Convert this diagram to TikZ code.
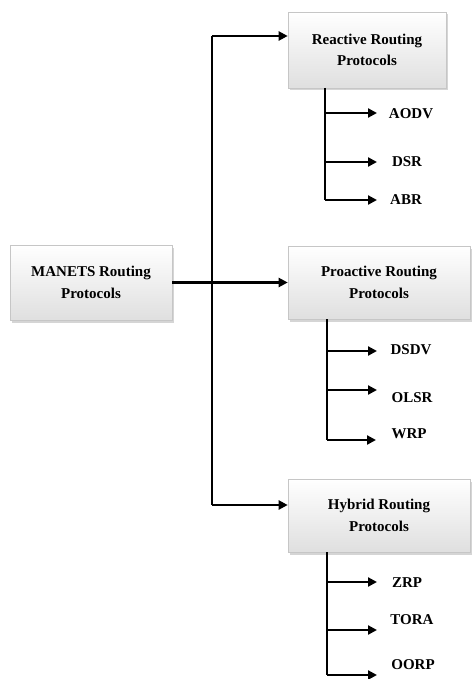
\documentclass[tikz,border=0pt]{standalone}
\usepackage{fontspec}
\setmainfont{Liberation Serif}
\usetikzlibrary{arrows.meta,shadows}
\begin{document}
\begin{tikzpicture}[x=1pt,y=-1pt,
  box/.style={draw=gray!45, line width=0.6pt, top color=white, bottom color=gray!25,
    drop shadow={shadow xshift=1.5pt,shadow yshift=-2.5pt,fill=gray!65},
    align=center, font=\bfseries\fontsize{15}{21.5}\selectfont, inner sep=0pt},
  lbl/.style={font=\bfseries\fontsize{15}{18}\selectfont, inner sep=0pt},
  arr/.style={line width=2.2pt, -{Triangle[length=9pt,width=9pt]}},
  ln/.style={line width=2.2pt}]
\useasboundingbox (0,0) rectangle (471,679);
% main boxes
\node[box, minimum width=162pt, minimum height=75pt] (man) at (91,282.5) {MANETS Routing\\Protocols};
\node[box, minimum width=158pt, minimum height=76pt] (rea) at (367,50) {Reactive Routing\\Protocols};
\node[box, minimum width=182pt, minimum height=73pt] (pro) at (379,282.5) {Proactive Routing\\Protocols};
\node[box, minimum width=182pt, minimum height=73pt] (hyb) at (379,515.5) {Hybrid Routing\\Protocols};
% trunk
\coordinate (t1) at (212,36);
\coordinate (t2) at (212,505);
\draw[ln] (t1) -- (t2);
\draw[arr] (t1) -- (t1 -| rea.west);
\draw[arr] (t2) -- (t2 -| hyb.west);
\draw[arr] (man.east) -- (pro.west);
% reactive leaves
\node[lbl] (aodv) at (411,114) {AODV};
\node[lbl] (dsr) at (407,162) {DSR};
\node[lbl] (abr) at (406,200) {ABR};
\coordinate (r0) at (325,88);
\coordinate (r1) at (325,113);
\coordinate (r2) at (325,162);
\coordinate (r3) at (325,200);
\draw[ln] (r0) -- (r3);
\draw[arr] (r1) -- (r1 -| 377,0);
\draw[arr] (r2) -- (r2 -| 377,0);
\draw[arr] (r3) -- (r3 -| 377,0);
% proactive leaves
\node[lbl] (dsdv) at (411,350) {DSDV};
\node[lbl] (olsr) at (412,398) {OLSR};
\node[lbl] (wrp) at (409,434) {WRP};
\coordinate (p0) at (327,319);
\coordinate (p1) at (327,351);
\coordinate (p2) at (327,390);
\coordinate (p3) at (327,440);
\draw[ln] (p0) -- (p3);
\draw[arr] (p1) -- (p1 -| 377,0);
\draw[arr] (p2) -- (p2 -| 377,0);
\draw[arr] (p3) -- (p3 -| 376,0);
% hybrid leaves
\node[lbl] (zrp) at (407,583) {ZRP};
\node[lbl] (tora) at (412,620) {TORA};
\node[lbl] (oorp) at (413,665) {OORP};
\coordinate (h0) at (327,552);
\coordinate (h1) at (327,582);
\coordinate (h2) at (327,630);
\coordinate (h3) at (327,675);
\draw[ln] (h0) -- (h3);
\draw[arr] (h1) -- (h1 -| 377,0);
\draw[arr] (h2) -- (h2 -| 377,0);
\draw[arr] (h3) -- (h3 -| 377,0);
\end{tikzpicture}
\end{document}
